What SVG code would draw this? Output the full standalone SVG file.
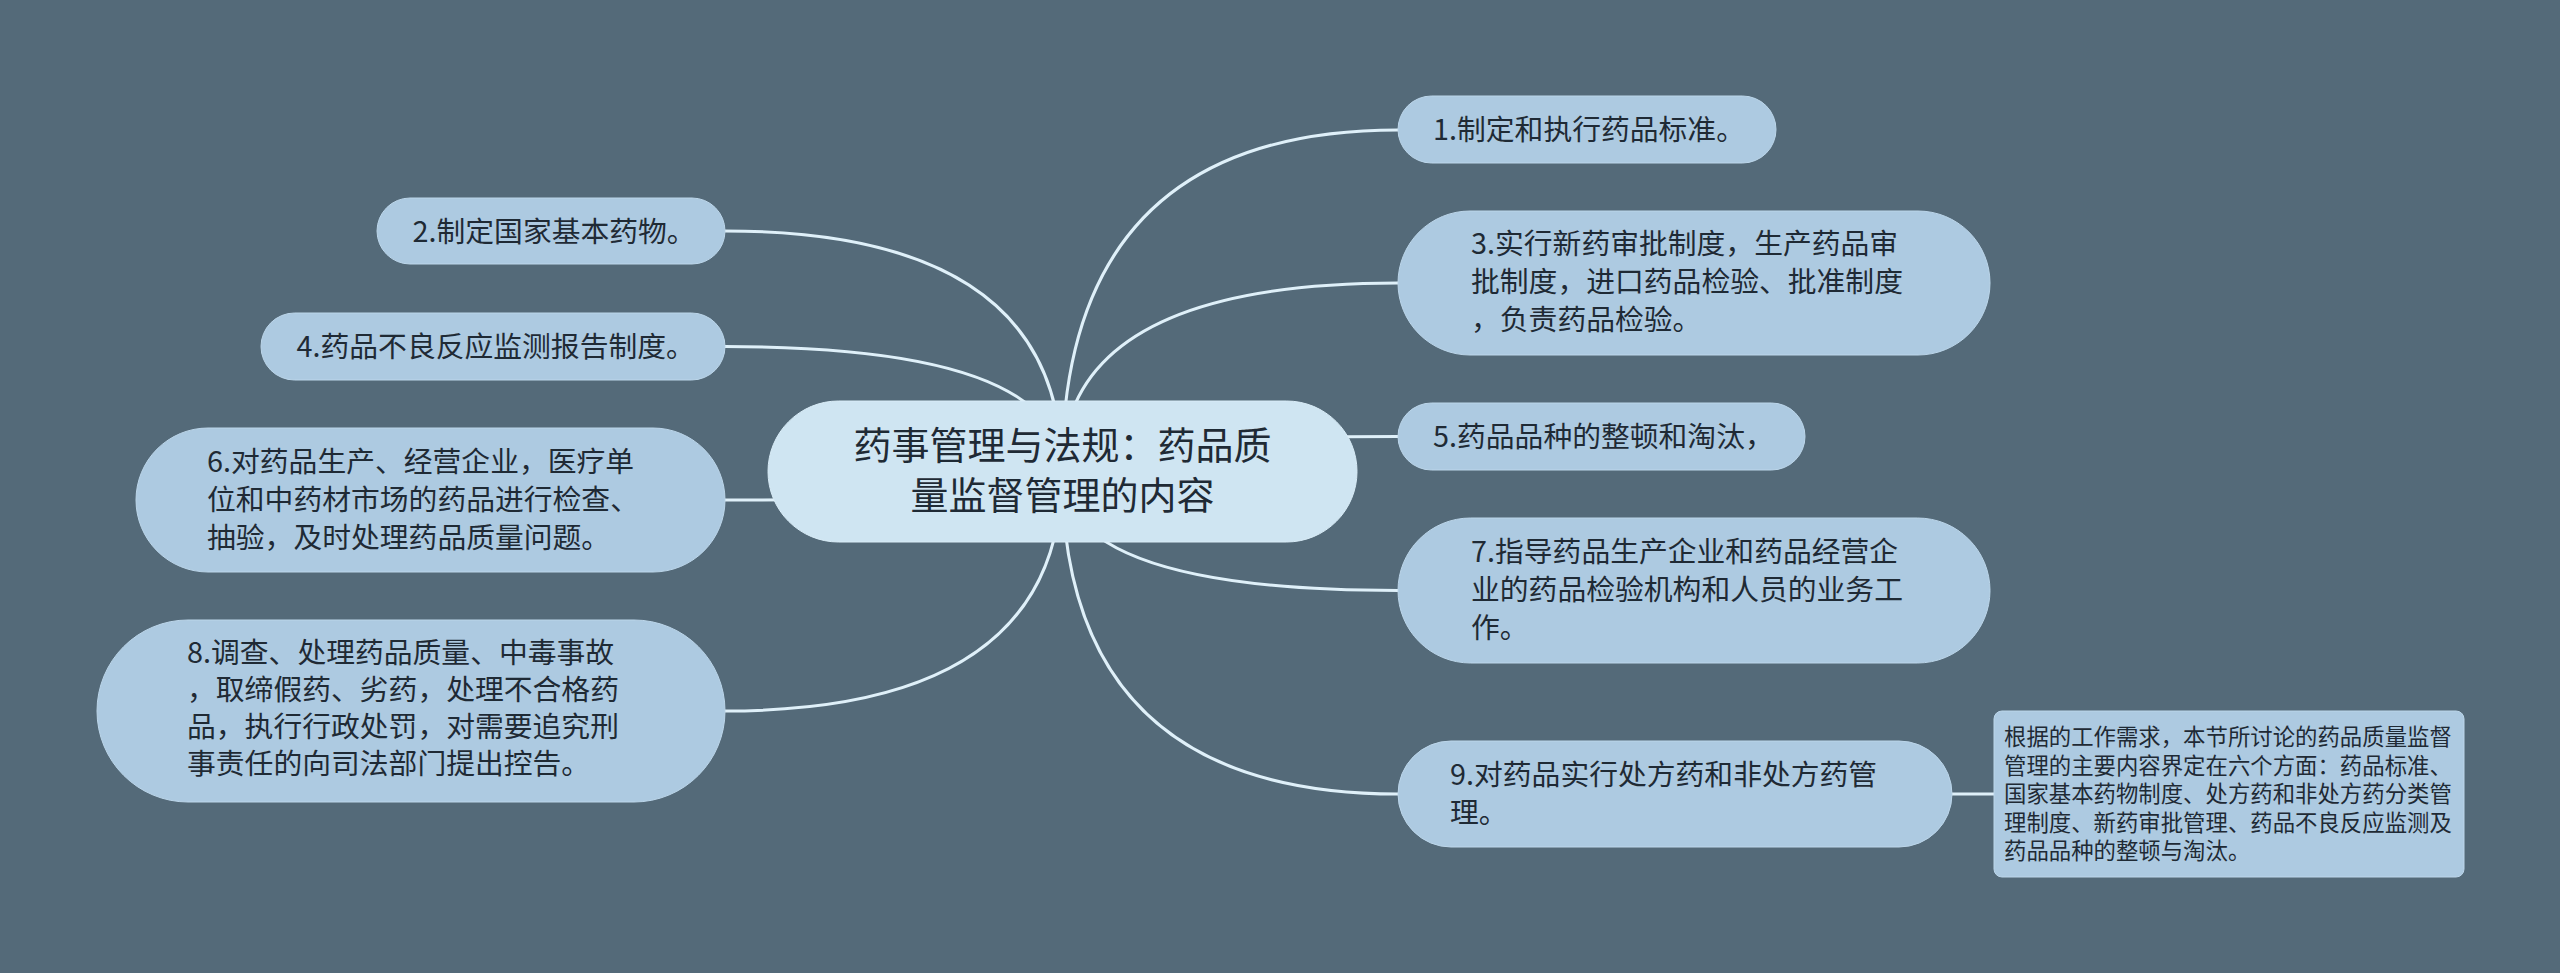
<svg xmlns="http://www.w3.org/2000/svg" width="2560" height="973" viewBox="0 0 2560 973">
<style>
.bg{fill:#546a79}
.node{fill:#adcae1;stroke:#bcd6ea;stroke-width:1}
.root{fill:#cfe5f2;stroke:#d9ecf7;stroke-width:1}
.note{fill:#adcae1;stroke:#bcd6ea;stroke-width:1}
.t{font-family:"Noto Sans CJK SC","Noto Sans",sans-serif;font-size:28.8px;fill:#1f2a35}
.rt{font-family:"Noto Sans CJK SC","Noto Sans",sans-serif;font-size:38px;fill:#1f2a35;text-anchor:middle}
.nt{font-family:"Noto Sans CJK SC","Noto Sans",sans-serif;font-size:22.4px;fill:#1f2a35}
.c{fill:none;stroke:#dff0f9;stroke-width:3}
</style>
<rect class="bg" x="0" y="0" width="2560" height="973"/>
<g id="connectors">
<path class="c" d="M1062,471 Q1062,130 1398,130"/>
<path class="c" d="M1062,471 Q1062,283 1398,283"/>
<path class="c" d="M1062,471 Q1062,436.5 1398,436.5"/>
<path class="c" d="M1062,471 Q1062,590.5 1398,590.5"/>
<path class="c" d="M1062,471 Q1062,794 1398,794"/>
<path class="c" d="M1062,471 Q1062,231 725,231"/>
<path class="c" d="M1062,471 Q1062,346.5 725,346.5"/>
<path class="c" d="M1062,471 Q1062,500 725,500"/>
<path class="c" d="M1062,471 Q1062,711 725,711"/>
<path class="c" d="M1952,794 L1994,794"/>
</g>
<g id="root">
<rect class="root" x="768" y="401" width="589" height="141" rx="70.5"/>
<text class="rt" x="1062.5" y="459">药事管理与法规：药品质</text>
<text class="rt" x="1062.5" y="509">量监督管理的内容</text>
</g>
<g id="n1">
<rect class="node" x="1398" y="96" width="378" height="67" rx="33.5"/>
<text class="t" x="1433" y="140">1.制定和执行药品标准。</text>
</g>
<g id="n3">
<rect class="node" x="1398" y="211" width="592" height="144" rx="72"/>
<text class="t" x="1471" y="254">3.实行新药审批制度，生产药品审</text>
<text class="t" x="1471" y="292">批制度，进口药品检验、批准制度</text>
<text class="t" x="1471" y="330">，负责药品检验。</text>
</g>
<g id="n5">
<rect class="node" x="1398" y="403" width="407" height="67" rx="33.5"/>
<text class="t" x="1433" y="447">5.药品品种的整顿和淘汰，</text>
</g>
<g id="n7">
<rect class="node" x="1398" y="518" width="592" height="145" rx="72.5"/>
<text class="t" x="1471" y="562">7.指导药品生产企业和药品经营企</text>
<text class="t" x="1471" y="600">业的药品检验机构和人员的业务工</text>
<text class="t" x="1471" y="638">作。</text>
</g>
<g id="n9">
<rect class="node" x="1398" y="741" width="554" height="106" rx="53"/>
<text class="t" x="1450" y="785">9.对药品实行处方药和非处方药管</text>
<text class="t" x="1450" y="823">理。</text>
</g>
<g id="note9">
<rect class="note" x="1994" y="711" width="470" height="166" rx="8"/>
<text class="nt" x="2004" y="745">根据的工作需求，本节所讨论的药品质量监督</text>
<text class="nt" x="2004" y="773.5">管理的主要内容界定在六个方面：药品标准、</text>
<text class="nt" x="2004" y="802">国家基本药物制度、处方药和非处方药分类管</text>
<text class="nt" x="2004" y="830.5">理制度、新药审批管理、药品不良反应监测及</text>
<text class="nt" x="2004" y="859">药品品种的整顿与淘汰。</text>
</g>
<g id="n2">
<rect class="node" x="377" y="198" width="348" height="66" rx="33"/>
<text class="t" x="412.5" y="242">2.制定国家基本药物。</text>
</g>
<g id="n4">
<rect class="node" x="261" y="313" width="464" height="67" rx="33.5"/>
<text class="t" x="296.5" y="357">4.药品不良反应监测报告制度。</text>
</g>
<g id="n6">
<rect class="node" x="136" y="428" width="589" height="144" rx="72"/>
<text class="t" x="207" y="472">6.对药品生产、经营企业，医疗单</text>
<text class="t" x="207" y="510">位和中药材市场的药品进行检查、</text>
<text class="t" x="207" y="548">抽验，及时处理药品质量问题。</text>
</g>
<g id="n8">
<rect class="node" x="97" y="620" width="628" height="182" rx="91"/>
<text class="t" x="187" y="663">8.调查、处理药品质量、中毒事故</text>
<text class="t" x="187" y="700">，取缔假药、劣药，处理不合格药</text>
<text class="t" x="187" y="737">品，执行行政处罚，对需要追究刑</text>
<text class="t" x="187" y="774">事责任的向司法部门提出控告。</text>
</g>
</svg>
